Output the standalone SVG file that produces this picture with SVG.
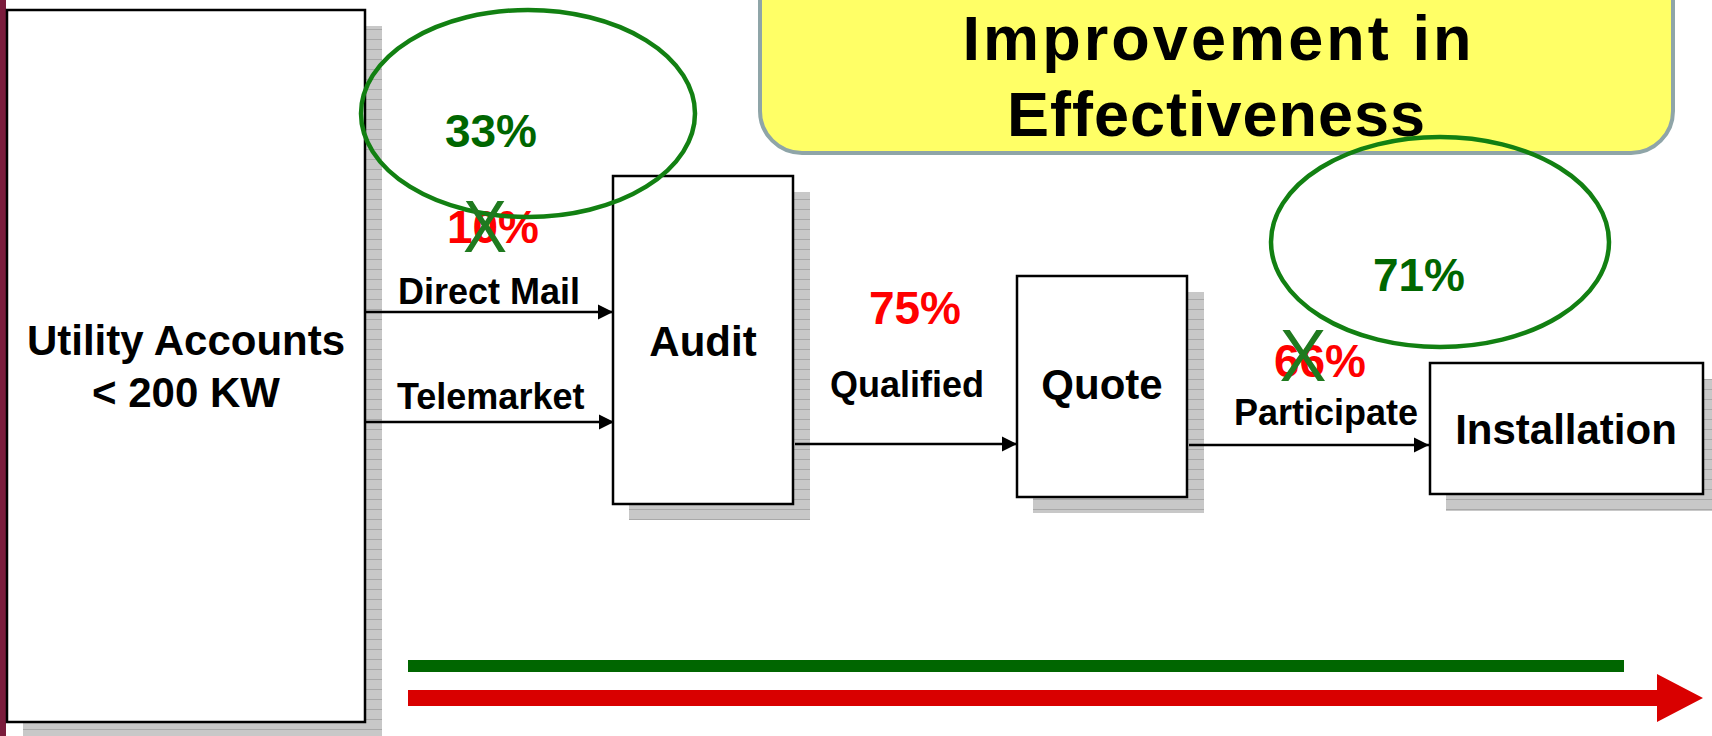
<svg xmlns="http://www.w3.org/2000/svg" width="1712" height="736" viewBox="0 0 1712 736">
<style>
.box{fill:#ffffff;stroke:#000000;stroke-width:2.5}
.shadow{fill:url(#hatch)}
.lbl{font-family:"Liberation Sans",Arial,sans-serif;font-weight:bold;fill:#000000}
.big{font-size:42px;text-anchor:middle}
.mid{font-size:36px}
.pct{font-family:"Liberation Sans",Arial,sans-serif;font-weight:bold;font-size:46px;text-anchor:middle}
.red{fill:#ff0000}
.grn{fill:#006600}
.ring{fill:none;stroke:#128012;stroke-width:4.5}
.cross{font-family:"Liberation Sans",Arial,sans-serif;font-size:75px;fill:#1f7a1f;text-anchor:middle}
.conn{stroke:#000000;stroke-width:2.5;fill:none}
</style>
<defs>
<pattern id="hatch" width="8" height="10" patternUnits="userSpaceOnUse">
<rect width="8" height="10" fill="#c8c8c8"/>
<rect y="9" width="8" height="1" fill="#a9a9a9"/>
</pattern>
<marker id="arr" markerUnits="userSpaceOnUse" markerWidth="16" markerHeight="16" refX="15" refY="8" orient="auto">
<path d="M0,0.5 L15,8 L0,15.5 Z" fill="#000000"/>
</marker>
</defs>
<rect x="0" y="0" width="1712" height="736" fill="#ffffff"/>
<rect x="0" y="0" width="6" height="736" fill="#7b1c3c"/>

<g id="utility">
<rect class="shadow" x="23" y="26" width="359" height="712"/>
<rect class="box" x="7" y="10" width="358" height="712"/>
<text class="lbl big" x="186" y="355">Utility Accounts</text>
<text class="lbl big" x="186" y="407">&lt; 200 KW</text>
</g>

<g id="audit">
<rect class="shadow" x="629" y="192" width="181" height="328"/>
<rect class="box" x="613" y="176" width="180" height="328"/>
<text class="lbl big" x="703" y="356">Audit</text>
</g>

<g id="quote">
<rect class="shadow" x="1033" y="292" width="171" height="221"/>
<rect class="box" x="1017" y="276" width="170" height="221"/>
<text class="lbl big" x="1102" y="399">Quote</text>
</g>

<g id="installation">
<rect class="shadow" x="1446" y="379" width="274" height="132"/>
<rect class="box" x="1430" y="363" width="273" height="131"/>
<text class="lbl big" x="1566" y="444">Installation</text>
</g>

<g id="title">
<rect x="760" y="-45" width="913" height="198" rx="42" ry="42" fill="#ffff66" stroke="#8fa5a8" stroke-width="4"/>
<text class="lbl" font-size="63" text-anchor="middle" x="1217" y="60" textLength="509" lengthAdjust="spacing">Improvement in</text>
<text class="lbl" font-size="63" text-anchor="middle" x="1216" y="136" textLength="418" lengthAdjust="spacing">Effectiveness</text>
</g>

<g id="connectors">
<line class="conn" x1="366" y1="312" x2="613" y2="312" marker-end="url(#arr)"/>
<line class="conn" x1="366" y1="422" x2="614" y2="422" marker-end="url(#arr)"/>
<line class="conn" x1="795" y1="444" x2="1017" y2="444" marker-end="url(#arr)"/>
<line class="conn" x1="1189" y1="445" x2="1429" y2="445" marker-end="url(#arr)"/>
</g>

<g id="labels">
<text class="lbl mid" x="398" y="304">Direct Mail</text>
<text class="lbl mid" x="397" y="409">Telemarket</text>
<text class="lbl mid" x="907" y="397" text-anchor="middle">Qualified</text>
<text class="lbl mid" x="1326" y="425" text-anchor="middle">Participate</text>
<text class="pct red" x="493" y="243">10%</text>
<text class="pct red" x="915" y="324">75%</text>
<text class="pct red" x="1320" y="377">66%</text>
<text class="pct grn" x="491" y="147">33%</text>
<text class="pct grn" x="1419" y="291">71%</text>
</g>

<g id="ovals">
<ellipse class="ring" cx="528" cy="113.5" rx="167" ry="103.5"/>
<ellipse class="ring" cx="1440" cy="242" rx="169" ry="105"/>
</g>

<g id="crosses">
<text class="cross" transform="translate(485,252) scale(0.88,1)" x="0" y="0">X</text>
<text class="cross" transform="translate(1303,381) scale(0.94,1)" x="0" y="0">X</text>
</g>

<g id="progress">
<rect x="408" y="660" width="1216" height="12" fill="#006600"/>
<path d="M408,690 L1657,690 L1657,674 L1703,698 L1657,722 L1657,706 L408,706 Z" fill="#d90000"/>
</g>
</svg>
